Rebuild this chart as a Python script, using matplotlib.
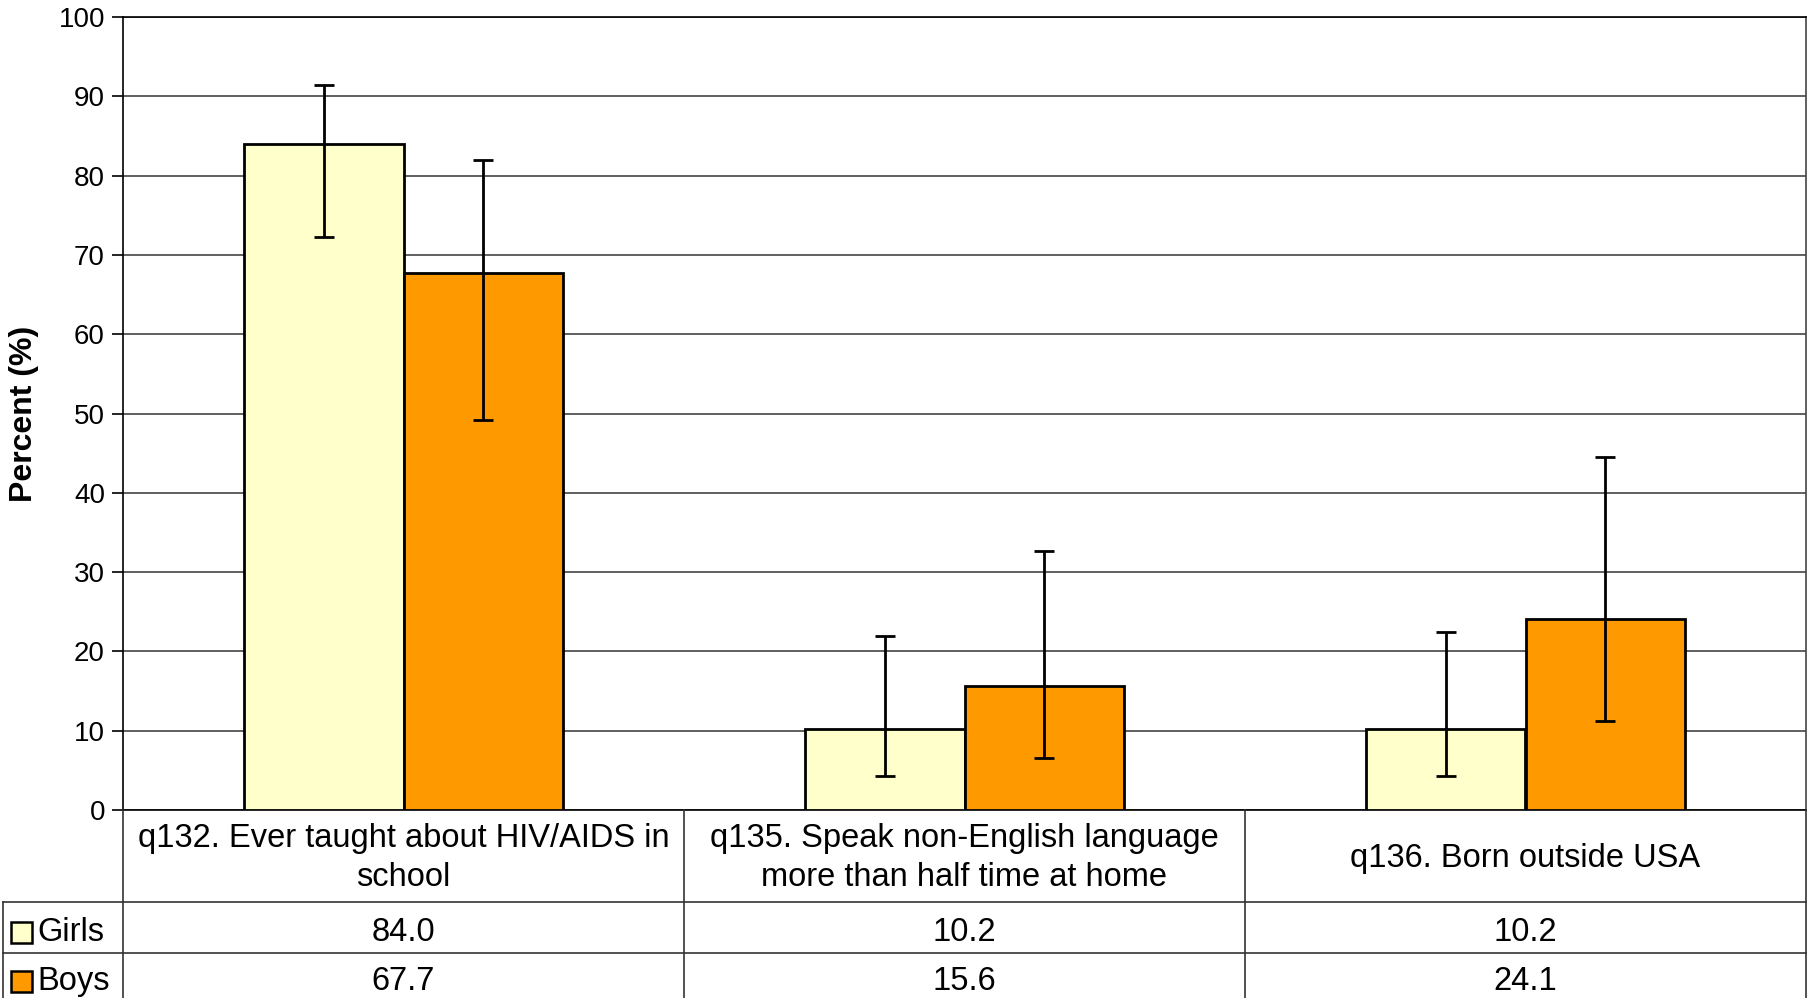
import matplotlib
matplotlib.use("Agg")
import matplotlib.pyplot as plt
from matplotlib.patches import Rectangle
from matplotlib.lines import Line2D
import numpy as np

plt.rcParams['font.family'] = ['Liberation Sans', 'DejaVu Sans']

categories = ["q132. Ever taught about HIV/AIDS in\nschool",
              "q135. Speak non-English language\nmore than half time at home",
              "q136. Born outside USA"]
series = ["Girls", "Boys"]
girls = [84.0, 10.2, 10.2]
boys = [67.7, 15.6, 24.1]
girls_lo = [72.3, 4.3, 4.3]
girls_hi = [91.4, 22.0, 22.5]
boys_lo = [49.2, 6.6, 11.2]
boys_hi = [82.0, 32.7, 44.5]
colors = ["#FFFFCC", "#FF9900"]
yticks = list(range(0, 101, 10))

W, H = 1811, 998
fig = plt.figure(figsize=(W / 100, H / 100), dpi=100)

ax_l, ax_r, ax_t, ax_b = 123, 1806, 17, 810
ax = fig.add_axes([ax_l / W, 1 - ax_b / H, (ax_r - ax_l) / W, (ax_b - ax_t) / H])

x = np.arange(len(categories))
bw = 0.285
vals = [girls, boys]
los = [girls_lo, boys_lo]
his = [girls_hi, boys_hi]
for i, (v, lo, hi) in enumerate(zip(vals, los, his)):
    xs = x + (i - 0.5) * bw
    ax.bar(xs, v, width=bw, color=colors[i], edgecolor="black", linewidth=2, zorder=3)
    v = np.array(v); lo = np.array(lo); hi = np.array(hi)
    ax.errorbar(xs, v, yerr=[v - lo, hi - v], fmt="none", ecolor="black",
                elinewidth=2, capsize=7, capthick=2, zorder=4)

ax.set_xlim(-0.5, len(categories) - 0.5)
ax.set_ylim(0, 100)
ax.set_yticks(yticks)
ax.set_yticklabels([str(t) for t in yticks], fontsize=20)
ax.yaxis.grid(True, color="#444444", linewidth=1.2, zorder=0)
ax.set_axisbelow(True)
ax.set_xticks([])
ax.tick_params(axis="y", length=8, width=1.2, pad=5)
for s in ["top", "right", "left", "bottom"]:
    ax.spines[s].set_linewidth(1.2)
ax.spines["top"].set_color("black")
ax.spines["right"].set_color("#444444")
ax.set_ylabel("Percent (%)", fontsize=23, fontweight="bold", labelpad=14)

# Data table drawn below axes (pixel coordinates -> figure fraction)
def fx(px):
    return px / W

def fy(py):
    return 1 - py / H

col_edges = [ax_l + (ax_r - ax_l) * k / len(categories) for k in range(len(categories) + 1)]
row_hdr_bot = 902
row1_bot = 953
row2_bot = 1004
lw = 1.2
lc = "#333333"
for k, cx in enumerate(col_edges):
    fig.add_artist(Line2D([fx(cx), fx(cx)], [fy(ax_b), fy(row2_bot)], color=lc, lw=lw))
fig.add_artist(Line2D([fx(3), fx(3)], [fy(row_hdr_bot), fy(row2_bot)], color=lc, lw=lw))
for yy in [row_hdr_bot, row1_bot]:
    fig.add_artist(Line2D([fx(3), fx(ax_r)], [fy(yy), fy(yy)], color=lc, lw=lw))

fs = 23.5
for k, cat in enumerate(categories):
    cx = (col_edges[k] + col_edges[k + 1]) / 2
    fig.text(fx(cx), fy((ax_b + row_hdr_bot) / 2 + 2), cat, ha="center", va="center",
             fontsize=fs, linespacing=1.3)

row_centers = [(row_hdr_bot + row1_bot) / 2 + 5, (row1_bot + row2_bot) / 2 + 3]
for r, (name, v) in enumerate(zip(series, vals)):
    yc = row_centers[r]
    sq = 21
    fig.add_artist(Rectangle((fx(11), fy(yc + sq / 2)), sq / W, sq / H,
                             facecolor=colors[r], edgecolor="black", linewidth=1.8,
                             transform=fig.transFigure))
    fig.text(fx(37), fy(yc), name, ha="left", va="center", fontsize=fs)
    for k in range(len(categories)):
        cx = (col_edges[k] + col_edges[k + 1]) / 2
        fig.text(fx(cx), fy(yc), f"{v[k]:.1f}", ha="center", va="center", fontsize=fs)

fig.savefig("out.png", dpi=100)
